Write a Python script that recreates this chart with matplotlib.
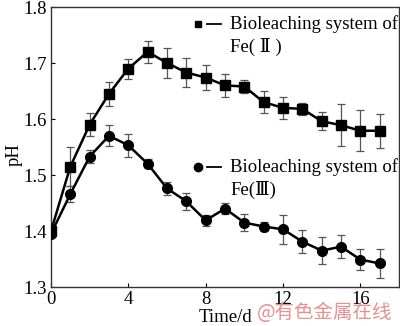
import matplotlib
matplotlib.use("Agg")
import matplotlib.pyplot as plt
from matplotlib.lines import Line2D

days = list(range(18))
fe2_ph = [1.400, 1.515, 1.590, 1.645, 1.690, 1.720, 1.700, 1.683, 1.674, 1.660,
          1.658, 1.630, 1.620, 1.618, 1.596, 1.589, 1.579, 1.579]
fe2_err = [0.000, 0.035, 0.020, 0.021, 0.018, 0.020, 0.027, 0.026, 0.023, 0.020,
           0.012, 0.020, 0.020, 0.010, 0.016, 0.037, 0.037, 0.030]
fe3_ph = [1.395, 1.466, 1.533, 1.570, 1.553, 1.520, 1.476, 1.453, 1.419, 1.440,
          1.415, 1.408, 1.403, 1.381, 1.365, 1.372, 1.349, 1.342]
fe3_err = [0.000, 0.015, 0.012, 0.019, 0.021, 0.008, 0.012, 0.015, 0.010, 0.010,
           0.015, 0.008, 0.026, 0.021, 0.024, 0.020, 0.018, 0.026]
xticks = [0, 4, 8, 12, 16]
yticks = [1.3, 1.4, 1.5, 1.6, 1.7, 1.8]
label_fe2 = ["Bioleaching system of", "Fe( Ⅱ )"]
label_fe3 = ["Bioleaching system of", "Fe(Ⅲ)"]

plt.rcParams['font.family'] = ['Liberation Serif', 'DejaVu Serif']

W, H = 400, 326
fig = plt.figure(figsize=(4.0, 3.26), dpi=100)
ax = fig.add_axes([51/W, 1-287/H, 348/W, 280/H])

ax.errorbar(days, fe2_ph, yerr=fe2_err, color='black', marker='s', markersize=6.5,
            linewidth=1.8, ecolor='#555555', elinewidth=0.9, capsize=3, capthick=0.9,
            zorder=3)
ax.errorbar(days, fe3_ph, yerr=fe3_err, color='black', marker='o', markersize=7,
            linewidth=1.8, ecolor='#555555', elinewidth=0.9, capsize=3, capthick=0.9,
            zorder=3)

ax.set_xlim(0, 18)
ax.set_ylim(1.3, 1.8)
ax.set_xticks(xticks)
ax.set_yticks(yticks)
ax.set_yticklabels([f"{v:.1f}" for v in yticks])
ax.tick_params(direction='in', length=3, width=0.8, labelsize=13.5)
ax.tick_params(axis='x', pad=3)
ax.tick_params(axis='y', pad=3)
for s in ax.spines.values():
    s.set_linewidth(1.0)
    s.set_color('#333333')

fig.text(225/W, 1-318/H, "Time/d", fontsize=13.5, ha='center', va='center')
fig.text(14/W, 1-155/H, "pH", fontsize=13.5, ha='center', va='center', rotation=90)

ft = fig.transFigure
fig.lines.append(Line2D([198/W], [1-24/H], marker='s', color='black', markersize=5,
                        transform=ft))
fig.lines.append(Line2D([207/W, 221/W], [1-24/H, 1-24/H], color='black', lw=1.3,
                        transform=ft))
fig.text(230/W, 1-24/H, label_fe2[0], fontsize=13.5, va='center', ha='left')
fig.text(230/W, 1-47/H, label_fe2[1], fontsize=13.5, va='center', ha='left')

fig.lines.append(Line2D([198/W], [1-167/H], marker='o', color='black', markersize=6,
                        transform=ft))
fig.lines.append(Line2D([207/W, 221/W], [1-167/H, 1-167/H], color='black', lw=1.3,
                        transform=ft))
fig.text(230/W, 1-167/H, label_fe3[0], fontsize=13.5, va='center', ha='left')
fig.text(230/W, 1-190/H, label_fe3[1], fontsize=13.5, va='center', ha='left')

fig.text(325/W, 1-312/H, "@有色金属在线", fontsize=14, color='#e89090',
         ha='center', va='center', family=['Noto Sans CJK SC', 'DejaVu Sans'])

fig.savefig("out.png", dpi=100)
